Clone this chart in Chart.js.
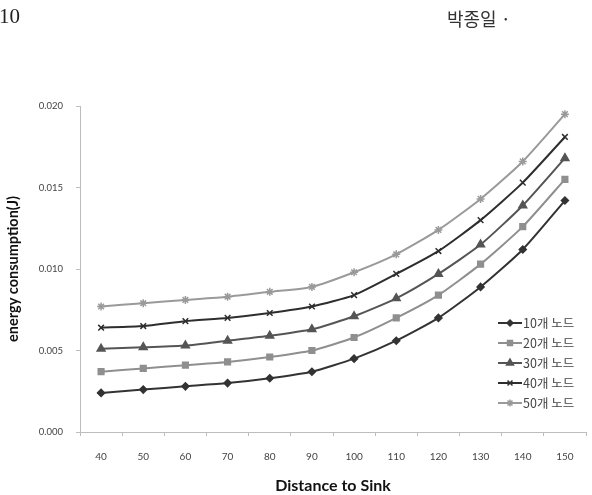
<!DOCTYPE html>
<html>
<head>
<meta charset="utf-8">
<script src="https://cdn.jsdelivr.net/npm/chart.js@4"></script>
<style>
  body { margin: 0; background: #fff; }
  #wrap { position: relative; width: 592px; height: 495px; overflow: hidden; }
  .hdr { position: absolute; top: 4px; color: #222; font-family: "Liberation Serif", "Noto Sans CJK KR", serif; }
</style>
</head>
<body>
<div id="wrap">
  <div class="hdr" style="left:-1px;font-size:21px;">10</div>
  <div class="hdr" style="left:447px;font-size:18px;top:5px;font-family:'Noto Sans CJK KR';color:#333;">박종일 ·</div>
  <canvas id="myChart" width="592" height="495"></canvas>
</div>
<script>
var distances = [40, 50, 60, 70, 80, 90, 100, 110, 120, 130, 140, 150];
var nodes10 = [0.0024, 0.0026, 0.0028, 0.0030, 0.0033, 0.0037, 0.0045, 0.0056, 0.0070, 0.0089, 0.0112, 0.0142];
var nodes20 = [0.0037, 0.0039, 0.0041, 0.0043, 0.0046, 0.0050, 0.0058, 0.0070, 0.0084, 0.0103, 0.0126, 0.0155];
var nodes30 = [0.0051, 0.0052, 0.0053, 0.0056, 0.0059, 0.0063, 0.0071, 0.0082, 0.0097, 0.0115, 0.0139, 0.0168];
var nodes40 = [0.0064, 0.0065, 0.0068, 0.0070, 0.0073, 0.0077, 0.0084, 0.0097, 0.0111, 0.0130, 0.0153, 0.0181];
var nodes50 = [0.0077, 0.0079, 0.0081, 0.0083, 0.0086, 0.0089, 0.0098, 0.0109, 0.0124, 0.0143, 0.0166, 0.0195];
var seriesNames = ["10개 노드", "20개 노드", "30개 노드", "40개 노드", "50개 노드"];

const makeSet = (label, data, color, style, radius) => ({
    label: label,
    data: data,
    borderColor: color,
    backgroundColor: color,
    pointStyle: style,
    pointRadius: radius,
    pointBorderWidth: 1.5,
    borderWidth: 2,
    tension: 0.2,
});

// legend drawn inside the plot like the original (line + marker + text)
const innerLegend = {
    id: 'innerLegend',
    afterDraw(chart) {
        const ctx = chart.ctx;
        chart.data.datasets.forEach((ds, i) => {
            const y = 323 + i * 20;
            ctx.save();
            ctx.strokeStyle = ds.borderColor;
            ctx.lineWidth = 2;
            ctx.beginPath();
            ctx.moveTo(498, y);
            ctx.lineTo(522, y);
            ctx.stroke();
            ctx.fillStyle = ds.backgroundColor;
            ctx.lineWidth = 1.5;
            Chart.helpers.drawPoint(ctx, {pointStyle: ds.pointStyle, radius: ds.pointRadius - 0.5, rotation: 0, borderWidth: 1.5}, 510, y);
            ctx.fillStyle = '#444';
            ctx.font = '12.5px "Noto Sans CJK KR"';
            ctx.textBaseline = 'middle';
            ctx.fillText(ds.label, 523, y);
            ctx.restore();
        });
    }
};

var ctx = document.getElementById("myChart").getContext("2d");
var myChart = new Chart(ctx, {
    type: 'line',
    data: {
        labels: distances,
        datasets: [
            makeSet(seriesNames[0], nodes10, '#333333', 'rectRot', 3.5),
            makeSet(seriesNames[1], nodes20, '#8f8f8f', 'rect', 4),
            makeSet(seriesNames[2], nodes30, '#555555', 'triangle', 4.5),
            makeSet(seriesNames[3], nodes40, '#2e2e2e', 'crossRot', 4),
            makeSet(seriesNames[4], nodes50, '#9a9a9a', 'star', 4),
        ],
    },
    options: {
        responsive: false,
        animation: false,
        layout: { padding: { top: 106, right: 0, left: 0, bottom: 0 } },
        plugins: {
            legend: { display: false },
            tooltip: { enabled: false },
        },
        scales: {
            x: {
                offset: true,
                afterFit: (s) => { s.height = 63; },
                grid: { offset: true, drawOnChartArea: false, tickLength: 4, color: '#bdbdbd' },
                border: { color: '#bdbdbd' },
                ticks: { padding: 15, color: '#444', font: { family: 'Lato', size: 10 }, maxRotation: 0 },
                title: { display: true, text: 'Distance to Sink', color: '#111', padding: { top: 0, bottom: 0 },
                         font: { family: 'Lato', size: 16, weight: 'bold' } },
            },
            y: {
                min: 0,
                max: 0.02,
                afterFit: (s) => { s.width = 80; },
                grid: { drawOnChartArea: false, tickLength: 4, color: '#bdbdbd' },
                border: { color: '#bdbdbd' },
                ticks: { stepSize: 0.005, padding: 13, color: '#444', font: { family: 'Lato', size: 9.5 },
                         callback: (v) => v.toFixed(3) },
                title: { display: true, text: 'energy consumption(J)', color: '#111', padding: { top: 5, bottom: 0 },
                         font: { family: 'Lato', size: 14.5, weight: 'bold' } },
            },
        },
    },
    plugins: [innerLegend],
});
</script>
</body>
</html>
